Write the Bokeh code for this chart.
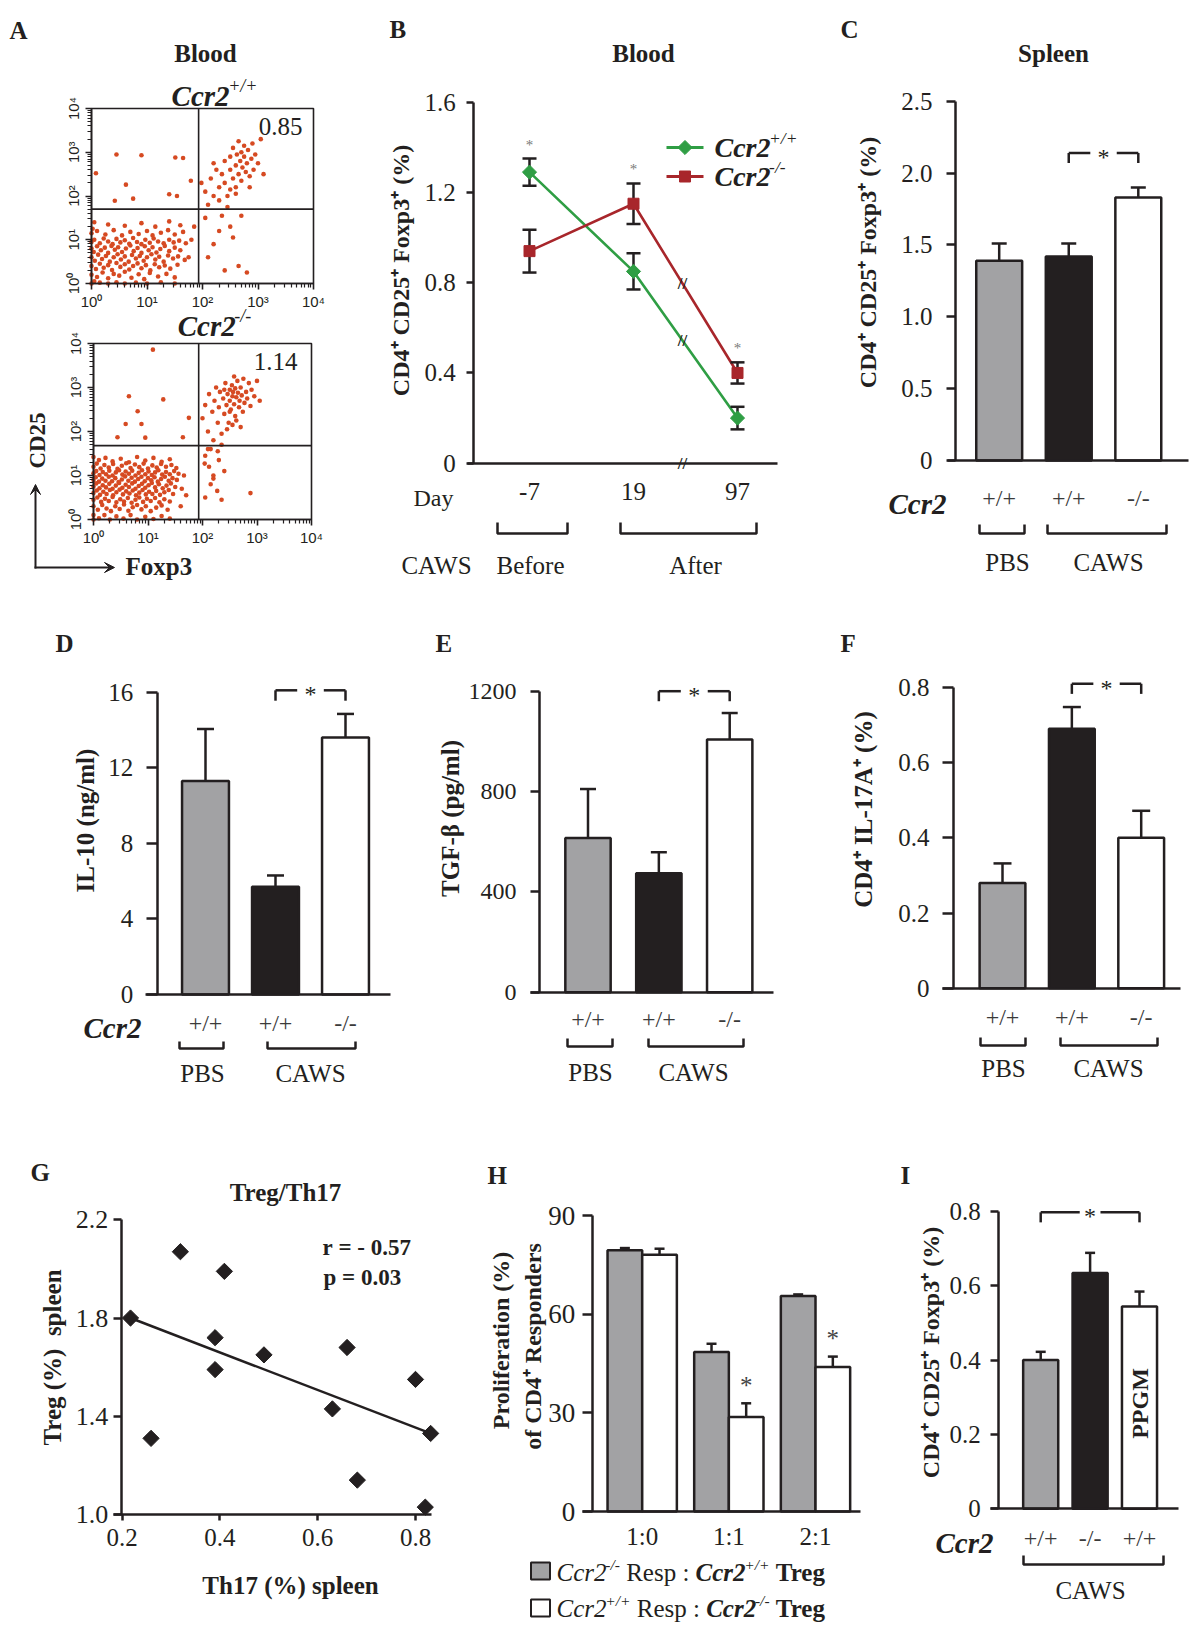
import math
from bokeh.plotting import figure
from bokeh.models import Range1d, LinearAxis, FixedTicker, Arrow, VeeHead
from bokeh.core.properties import value
from bokeh.embed import file_html
from bokeh.resources import INLINE

# ======================= DATA =======================
# A: flow cytometry, blood (log10 fluorescence: Foxp3, CD25)
flow_ticks = [0, 1, 2, 3, 4]
flow_tick_labels = ["10⁰", "10¹", "10²", "10³", "10⁴"]
wt_gate = [1.93, 1.70]
ko_gate = [1.93, 1.68]
wt_treg_pct = "0.85"
ko_treg_pct = "1.14"
wt_events = [
    (0.05,1.4),(0.3,1.35),(0.6,1.32),(0.9,1.38),(1.15,1.3),(1.4,1.42),(1.6,1.33),(0.02,1.25),
    (0.0,1.15),(0.1,1.2),(0.25,1.12),(0.4,1.22),(0.55,1.1),(0.7,1.18),(0.85,1.13),(1.0,1.2),(1.1,1.1),
    (1.25,1.16),(1.38,1.22),(1.5,1.12),(1.65,1.18),
    (0.0,0.95),(0.05,1.0),(0.15,0.92),(0.22,1.03),(0.3,0.96),(0.38,0.9),(0.45,1.02),(0.52,0.94),(0.6,0.99),
    (0.68,0.91),(0.75,1.04),(0.82,0.95),(0.9,0.9),(0.97,1.0),(1.05,0.93),(1.12,1.03),(1.2,0.96),(1.3,0.92),
    (1.4,1.0),(1.48,0.94),(1.58,0.98),(1.7,0.92),
    (0.0,0.8),(0.04,0.72),(0.1,0.85),(0.17,0.76),(0.24,0.82),(0.3,0.7),(0.36,0.86),(0.42,0.77),(0.48,0.83),
    (0.55,0.72),(0.62,0.8),(0.7,0.87),(0.76,0.74),(0.83,0.81),(0.9,0.7),(0.96,0.85),(1.03,0.76),(1.1,0.83),
    (1.17,0.71),(1.24,0.79),(1.32,0.86),(1.4,0.74),(1.5,0.82),(1.6,0.76),
    (0.0,0.6),(0.06,0.52),(0.12,0.66),(0.19,0.56),(0.26,0.63),(0.33,0.5),(0.4,0.6),(0.47,0.67),(0.53,0.55),
    (0.6,0.62),(0.67,0.5),(0.73,0.65),(0.8,0.57),(0.87,0.63),(0.94,0.52),(1.0,0.6),(1.08,0.67),(1.15,0.55),
    (1.22,0.61),(1.3,0.5),(1.38,0.64),(1.47,0.57),(1.56,0.62),(1.68,0.54),
    (0.0,0.4),(0.08,0.33),(0.15,0.45),(0.22,0.36),(0.3,0.42),(0.37,0.31),(0.45,0.47),(0.52,0.38),(0.6,0.44),
    (0.68,0.32),(0.75,0.4),(0.83,0.46),(0.9,0.35),(0.98,0.42),(1.06,0.3),(1.14,0.44),(1.22,0.37),(1.32,0.41),
    (1.42,0.34),(1.55,0.43),
    (0.0,0.2),(0.1,0.15),(0.2,0.25),(0.3,0.12),(0.4,0.22),(0.5,0.18),(0.6,0.27),(0.72,0.13),(0.85,0.21),
    (0.95,0.1),(1.05,0.24),(1.2,0.16),(1.35,0.22),(1.5,0.14),
    (0.0,0.0),(0.15,0.02),(0.3,0.0),(0.45,0.03),(0.6,0.0),(0.8,0.02),(1.0,0.0),(1.25,0.03),(1.5,0.0),(0.05,0.05),
    (1.8,1.0),(1.75,0.6),(1.85,1.3),
    (0.45,2.95),(0.9,2.93),(1.51,2.88),(1.65,2.87),(0.08,2.52),(0.62,2.26),(0.75,1.94),(0.42,1.89),
    (1.40,2.04),(1.54,2.00),(1.79,2.35),
    (2.05,2.1),(2.1,1.8),(2.15,2.4),(2.2,2.0),(2.25,2.6),(2.3,2.2),(2.3,1.9),(2.35,2.5),(2.4,2.8),(2.4,2.3),
    (2.45,2.0),(2.5,2.6),(2.5,2.9),(2.55,2.4),(2.55,3.1),(2.6,2.7),(2.6,2.2),(2.62,2.95),(2.65,2.5),(2.68,2.8),
    (2.7,3.0),(2.7,2.35),(2.72,2.65),(2.75,2.9),(2.75,3.15),(2.78,2.55),(2.8,2.75),(2.82,3.05),(2.85,2.45),
    (2.88,2.85),(2.9,3.2),(2.92,2.6),(2.95,2.95),(3.0,2.75),(3.05,3.3),(2.6,2.05),(2.45,1.75),(2.85,2.2),
    (3.1,2.5),(2.2,2.75),(1.98,2.3),(2.65,3.25),(2.5,2.15),
    (2.05,1.5),(2.2,0.9),(2.3,1.2),(2.5,1.3),(2.55,1.05),(2.65,0.4),(2.4,0.3),(2.8,0.25),(2.35,1.55),
    (2.7,1.55),(2.1,0.6),
]
ko_events = [
    (0.0,1.42),(0.1,1.35),(0.22,1.4),(0.35,1.32),(0.5,1.38),(0.65,1.3),(0.8,1.42),(0.95,1.34),(1.1,1.4),
    (1.25,1.31),(1.4,1.37),
    (0.0,1.2),(0.06,1.27),(0.13,1.16),(0.2,1.24),(0.28,1.18),(0.36,1.26),(0.44,1.15),(0.52,1.22),(0.6,1.28),
    (0.68,1.17),(0.76,1.25),(0.84,1.19),(0.92,1.27),(1.0,1.16),(1.08,1.23),(1.16,1.18),(1.24,1.26),(1.33,1.2),
    (1.43,1.24),(1.52,1.17),
    (0.0,1.05),(0.05,1.1),(0.11,1.01),(0.17,1.08),(0.23,1.03),(0.29,1.11),(0.35,1.0),(0.41,1.07),(0.47,1.12),
    (0.53,1.02),(0.59,1.09),(0.65,1.04),(0.71,1.11),(0.77,1.0),(0.83,1.06),(0.89,1.12),(0.95,1.03),(1.01,1.09),
    (1.07,1.01),(1.13,1.07),(1.19,1.12),(1.26,1.02),(1.33,1.08),(1.4,1.03),(1.48,1.1),(1.56,1.04),
    (0.0,0.9),(0.04,0.96),(0.1,0.86),(0.16,0.93),(0.22,0.88),(0.28,0.97),(0.34,0.87),(0.4,0.94),(0.46,0.85),
    (0.52,0.91),(0.58,0.98),(0.64,0.88),(0.7,0.95),(0.76,0.86),(0.82,0.92),(0.88,0.97),(0.94,0.87),(1.0,0.94),
    (1.06,0.89),(1.12,0.96),(1.18,0.86),(1.24,0.92),(1.31,0.97),(1.38,0.88),(1.45,0.94),(1.53,0.9),
    (0.0,0.75),(0.05,0.82),(0.11,0.71),(0.17,0.78),(0.23,0.73),(0.29,0.81),(0.35,0.7),(0.41,0.77),(0.47,0.83),
    (0.53,0.72),(0.59,0.79),(0.65,0.74),(0.71,0.82),(0.77,0.7),(0.83,0.76),(0.89,0.81),(0.95,0.72),(1.01,0.78),
    (1.07,0.83),(1.13,0.73),(1.2,0.8),(1.27,0.71),(1.34,0.77),(1.42,0.82),(1.5,0.74),
    (0.0,0.6),(0.06,0.66),(0.12,0.56),(0.18,0.63),(0.24,0.58),(0.3,0.67),(0.36,0.55),(0.42,0.62),(0.48,0.68),
    (0.54,0.57),(0.6,0.64),(0.66,0.59),(0.72,0.66),(0.78,0.55),(0.84,0.61),(0.9,0.67),(0.96,0.57),(1.02,0.63),
    (1.08,0.58),(1.15,0.65),(1.22,0.56),(1.3,0.62),(1.38,0.67),(1.46,0.58),
    (0.0,0.45),(0.07,0.5),(0.14,0.4),(0.21,0.47),(0.28,0.42),(0.35,0.51),(0.42,0.39),(0.49,0.46),(0.56,0.41),
    (0.63,0.49),(0.7,0.38),(0.77,0.45),(0.84,0.5),(0.91,0.4),(0.98,0.47),(1.05,0.42),(1.13,0.49),(1.21,0.39),
    (1.3,0.46),(1.4,0.41),
    (0.0,0.3),(0.08,0.22),(0.16,0.33),(0.24,0.25),(0.32,0.19),(0.4,0.3),(0.48,0.24),(0.56,0.34),(0.64,0.2),
    (0.72,0.28),(0.8,0.33),(0.88,0.23),(0.96,0.3),(1.05,0.19),(1.15,0.27),(1.25,0.32),(1.36,0.22),
    (0.0,0.0),(0.0,0.1),(0.1,0.03),(0.2,0.1),(0.3,0.0),(0.42,0.07),(0.55,0.02),(0.68,0.1),(0.8,0.0),(0.95,0.06),
    (1.1,0.01),(1.25,0.08),(1.4,0.02),
    (1.62,0.7),(1.66,1.0),(1.6,0.3),(1.7,0.55),
    (1.09,3.86),(0.65,2.8),(1.28,2.73),(0.81,2.46),(0.59,2.17),(0.88,2.17),(0.44,1.87),(0.95,1.86),
    (1.75,2.31),(1.64,1.87),
    (2.0,2.3),(2.05,2.6),(2.1,2.0),(2.12,2.85),(2.18,2.45),(2.2,1.8),(2.22,2.7),(2.25,3.0),(2.28,2.2),(2.3,2.55),
    (2.32,2.9),(2.35,1.95),(2.38,2.75),(2.4,2.4),(2.42,3.1),(2.44,2.6),(2.46,2.85),(2.48,2.2),(2.5,2.95),
    (2.5,2.7),(2.52,2.5),(2.54,3.05),(2.55,2.8),(2.56,2.9),(2.58,2.62),(2.6,2.98),(2.6,2.35),(2.62,2.78),
    (2.64,3.15),(2.65,2.88),(2.67,2.55),(2.68,2.7),(2.7,3.0),(2.72,2.82),(2.74,2.45),(2.75,3.2),(2.77,2.65),
    (2.8,2.9),(2.82,2.75),(2.85,3.1),(2.88,2.58),(2.9,2.95),(2.95,2.8),(3.0,3.15),(3.05,2.7),(2.45,2.05),
    (2.35,1.7),(2.55,2.15),(2.15,1.6),(2.28,1.55),(2.62,2.25),(2.7,2.1),(2.4,2.95),(2.58,3.25),(2.5,2.45),
    (2.05,1.45),(2.12,1.2),(2.2,1.0),(2.3,1.35),(2.15,0.8),(2.27,0.65),(2.05,0.5),(2.4,1.1),(2.1,1.6),
    (2.88,0.6),(2.35,0.45),(2.04,1.27),(2.2,0.93),
]

# B: blood Treg time course
b_days = ["-7", "19", "97"]
b_pos = [1, 2, 3]
b_wt_mean = [1.29, 0.85, 0.20]
b_wt_err = [0.06, 0.08, 0.05]
b_ko_mean = [0.94, 1.15, 0.40]
b_ko_err = [0.095, 0.09, 0.047]
b_ticks = [0, 0.4, 0.8, 1.2, 1.6]
b_tick_labels = ["0", "0.4", "0.8", "1.2", "1.6"]

# C-F: PBS +/+, CAWS +/+, CAWS -/-
grp_pos = [1, 2, 3]
grp_genotype = ["+/+", "+/+", "-/-"]
c_mean = [1.39, 1.42, 1.83]
c_err = [0.12, 0.09, 0.07]
c_ticks = [0, 0.5, 1.0, 1.5, 2.0, 2.5]
c_tick_labels = ["0", "0.5", "1.0", "1.5", "2.0", "2.5"]
d_mean = [11.3, 5.7, 13.6]
d_err = [2.75, 0.6, 1.25]
d_ticks = [0, 4, 8, 12, 16]
d_tick_labels = ["0", "4", "8", "12", "16"]
e_mean = [615, 474, 1007]
e_err = [195, 84, 106]
e_ticks = [0, 400, 800, 1200]
e_tick_labels = ["0", "400", "800", "1200"]
f_mean = [0.28, 0.69, 0.40]
f_err = [0.052, 0.058, 0.072]
f_ticks = [0, 0.2, 0.4, 0.6, 0.8]
f_tick_labels = ["0", "0.2", "0.4", "0.6", "0.8"]

# G: Treg vs Th17 (spleen)
g_th17 = [0.217, 0.259, 0.319, 0.409, 0.390, 0.390, 0.490, 0.630, 0.660, 0.681, 0.800, 0.831, 0.820]
g_treg = [1.80, 1.31, 2.07, 1.99, 1.72, 1.59, 1.65, 1.43, 1.68, 1.14, 1.55, 1.33, 1.03]
g_fit_x = [0.217, 0.831]
g_fit_y = [1.80, 1.33]
g_xticks = [0.2, 0.4, 0.6, 0.8]
g_xtick_labels = ["0.2", "0.4", "0.6", "0.8"]
g_yticks = [1.0, 1.4, 1.8, 2.2]
g_ytick_labels = ["1.0", "1.4", "1.8", "2.2"]

# H: suppression assay
h_ratios = ["1:0", "1:1", "2:1"]
h_pos = [1, 2, 3]
h_ko_resp = [79.4, 48.5, 65.5]
h_ko_resp_err = [0.7, 2.5, 0.5]
h_wt_resp = [78.1, 28.7, 43.9]
h_wt_resp_err = [1.8, 4.2, 3.2]
h_sig = [False, True, True]
h_ticks = [0, 30, 60, 90]
h_tick_labels = ["0", "30", "60", "90"]

# I: CAWS, +/+, -/-, +/+ PPGM
i_genotype = ["+/+", "-/-", "+/+"]
i_mean = [0.40, 0.634, 0.544]
i_err = [0.022, 0.054, 0.040]

# ======================= STYLE / LAYOUT =======================
W, H = 1192, 1630
X0, Y0 = 0, 0
X1, Y1 = X0 + W, Y0 + H
INK = "#231f20"
GRAY_BAR = "#a2a2a4"
BAR_COLORS = [GRAY_BAR, INK, "#ffffff"]
GREEN = "#2f9e44"
RED = "#a8262b"
DOT = "#d64a22"
SERIF = "Liberation Serif"
NB = "\u00a0"

p = figure(width=W, height=H, output_backend="svg", toolbar_location=None,
           x_axis_type=None, y_axis_type=None, min_border=0, title=None,
           x_range=Range1d(X0, X1), y_range=Range1d(Y1, Y0))
p.outline_line_color = None
p.background_fill_color = "white"
p.border_fill_color = "white"

REG = {' ': .25, '+': .564, '/': .278, '-': .333, ':': .278, 'R': .667, 'e': .444, 's': .389,
       'p': .5, 'C': .667, 'c': .444, 'r': .333, '2': .5}
ITA = {' ': .25, '+': .675, '/': .278, '-': .333, 'C': .667, 'c': .444, 'r': .389, '2': .5}
BLD = {' ': .25, 'T': .667, 'r': .444, 'e': .444, 'g': .5}
BIT = {'C': .667, 'c': .444, 'r': .389, '2': .5}
TABLES = {"normal": REG, "italic": ITA, "bold": BLD, "bold italic": BIT}


def tw(s, style, size):
    t = TABLES[style]
    return sum(t.get(ch, 0.5) for ch in s) * size


def txt(x, y, s, size, style="normal", align="center", baseline="middle", angle=0.0,
        color=INK, r="default", font=SERIF, xo=0, yo=0):
    p.text(x=[x], y=[y], text=[s.replace(" ", NB)], text_font=value(font),
           text_font_size=f"{size:.1f}px", text_font_style=style, text_align=align,
           text_baseline=baseline, angle=angle, text_color=color, x_range_name=r,
           y_range_name=r, x_offset=xo, y_offset=yo)


def rich(x, y, parts, size, align="left"):
    # superscripts tuck in slightly after the (slanted) italic glyph before them
    ws = [tw(t, st, size * rel) - (0.05 * size if up else 0) for t, st, rel, up in parts]
    if align == "center":
        x -= sum(ws) / 2
    for (t, st, rel, up), w in zip(parts, ws):
        txt(x - (0.05 * size if up else 0), y - up * size, t, size * rel, style=st, align="left")
        x += w


def ccr2(sup):
    return [("Ccr2", "bold italic", 1, 0), (sup, "italic", 0.62, 0.34)]


def make_panel(name, xd, xp, yd, yp):
    (xd0, xd1), (xp0, xp1) = xd, xp
    sx = (xd1 - xd0) / (xp1 - xp0)
    (yd0, yd1), (yp0, yp1) = yd, yp
    sy = (yd1 - yd0) / (yp1 - yp0)
    p.extra_x_ranges = {**p.extra_x_ranges,
                        name: Range1d(start=xd0 + (X0 - xp0) * sx, end=xd0 + (X1 - xp0) * sx)}
    p.extra_y_ranges = {**p.extra_y_ranges,
                        name: Range1d(start=yd0 + (Y1 - yp0) * sy, end=yd0 + (Y0 - yp0) * sy)}
    return (lambda px: xd0 + (px - xp0) * sx), (lambda py: yd0 + (py - yp0) * sy)


def axis(name, side, loc, bounds, ticks, labels, size=25, font=SERIF, tick_out=9, standoff=12,
         lw=2.5, minor=None, orient=None, color=INK):
    ax = LinearAxis(x_range_name=name, y_range_name=name, fixed_location=loc, bounds=bounds,
                    ticker=FixedTicker(ticks=list(ticks), minor_ticks=list(minor or [])))
    ax.major_label_overrides = {t: l for t, l in zip(ticks, labels)}
    ax.axis_line_width = lw
    ax.axis_line_color = INK
    ax.major_tick_line_width = lw
    ax.major_tick_line_color = INK if tick_out else None
    ax.major_tick_out = tick_out
    ax.major_tick_in = 0
    ax.minor_tick_line_color = INK if minor else None
    ax.minor_tick_line_width = 1.2
    ax.minor_tick_out = 4
    ax.minor_tick_in = 0
    ax.major_label_text_font = font
    ax.major_label_text_font_size = f"{size}px"
    ax.major_label_text_color = color
    ax.major_label_standoff = standoff
    if orient:
        ax.major_label_orientation = orient
    p.add_layout(ax, side)


def bars(name, pos, means, errs, colors, width, cap):
    p.vbar(x=pos, top=means, bottom=0, width=width, fill_color=colors, line_color=INK,
           line_width=2.5, x_range_name=name, y_range_name=name)
    p.segment(x0=pos, y0=means, x1=pos, y1=[m + e for m, e in zip(means, errs)],
              line_color=INK, line_width=2.5, x_range_name=name, y_range_name=name)
    p.scatter(x=pos, y=[m + e for m, e in zip(means, errs)], marker="dash", size=cap,
              line_color=INK, line_width=2.5, x_range_name=name, y_range_name=name)


def sig(name, xa, xb, level, leg, gap, size=24):
    xm = (xa + xb) / 2
    p.segment(x0=[xa, xm + gap, xa, xb], y0=[level] * 4, x1=[xm - gap, xb, xa, xb],
              y1=[level, level, leg, leg], line_color=INK, line_width=2.5,
              x_range_name=name, y_range_name=name)
    txt(xm, level, "*", size, r=name, yo=4)


def bracket(xa, xb, ytop, ybot):
    p.line(x=[xa, xa, xb, xb], y=[ytop, ybot, ybot, ytop], line_color=INK, line_width=2.5)


# ======================= PANEL A =======================
txt(9, 30, "A", 25, "bold", align="left")
txt(205, 53, "Blood", 25, "bold")
minor_log = [d + math.log10(k) for d in range(4) for k in range(2, 10)]
for name, xp, yp, events, gate, pct, pct_xy, sup, title_y in [
        ("a1", (91, 313), (283, 108), wt_events, wt_gate, wt_treg_pct, (280, 126), "+/+", 95),
        ("a2", (93, 311), (519, 343), ko_events, ko_gate, ko_treg_pct, (275, 361), "-/-", 325)]:
    make_panel(name, (0, 4), xp, (0, 4), yp)
    p.scatter(x=[e[0] for e in events], y=[e[1] for e in events], marker="circle", size=4.6,
              fill_color=DOT, line_color=None, x_range_name=name, y_range_name=name)
    p.quad(left=[0], right=[4], bottom=[0], top=[4], fill_color=None, line_color=INK,
           line_width=1.6, x_range_name=name, y_range_name=name)
    p.segment(x0=[gate[0], 0], y0=[0, gate[1]], x1=[gate[0], 4], y1=[4, gate[1]],
              line_color=INK, line_width=1.6, x_range_name=name, y_range_name=name)
    axis(name, "below", 0, (0, 4), flow_ticks, flow_tick_labels, size=15, font="Liberation Sans",
         tick_out=6, standoff=3, lw=1.6, minor=minor_log)
    axis(name, "left", 0, (0, 4), flow_ticks, flow_tick_labels, size=15, font="Liberation Sans",
         tick_out=6, standoff=4, lw=1.6, minor=minor_log, orient="vertical")
    txt(pct_xy[0], pct_xy[1], pct, 25)
    rich(214, title_y, ccr2(sup), 29, align="center")
txt(37, 440, "CD25", 23, "bold", angle=math.pi / 2)
txt(125, 566, "Foxp3", 25, "bold", align="left")
p.add_layout(Arrow(end=VeeHead(size=10, fill_color=INK, line_color=INK), x_start=35, y_start=568,
                   x_end=35, y_end=484, line_width=2, line_color=INK))
p.add_layout(Arrow(end=VeeHead(size=10, fill_color=INK, line_color=INK), x_start=34, y_start=567,
                   x_end=114, y_end=567, line_width=2, line_color=INK))

# ======================= PANEL B =======================
txt(389, 29, "B", 25, "bold", align="left")
txt(643, 53, "Blood", 25, "bold")
fx, fy = make_panel("b", (1, 3), (529, 737), (0, 1.6), (462.7, 101.7))
axis("b", "left", fx(473.3), (0, 1.6), b_ticks, b_tick_labels, tick_out=7, standoff=11)
axis("b", "below", 0, (fx(467), fx(777)), b_pos, b_days, tick_out=0, standoff=20)
b_break = 2.47
for mean, err, color, msize in [(b_wt_mean, b_wt_err, GREEN, 10), (b_ko_mean, b_ko_err, RED, 11)]:
    p.line(x=b_pos, y=mean, line_color=color, line_width=2.6, x_range_name="b", y_range_name="b")
    lo = [m - e for m, e in zip(mean, err)]
    hi = [m + e for m, e in zip(mean, err)]
    p.segment(x0=b_pos, y0=lo, x1=b_pos, y1=hi, line_color=INK, line_width=2.5,
              x_range_name="b", y_range_name="b")
    p.scatter(x=b_pos + b_pos, y=lo + hi, marker="dash", size=14, line_color=INK, line_width=2.5,
              x_range_name="b", y_range_name="b")
    p.scatter(x=b_pos, y=mean, marker="square", size=msize, angle=(math.pi / 4 if color == GREEN else 0),
              fill_color=color, line_color=color, x_range_name="b", y_range_name="b")
    yb = mean[1] + (mean[2] - mean[1]) * (b_break - 2)
    txt(b_break, yb, "//", 17, "bold", r="b")
p.rect(x=[b_break], y=[0], width=12, height=10, width_units="screen", height_units="screen",
       fill_color="white", line_color=None, x_range_name="b", y_range_name="b")
txt(b_break, 0, "//", 17, "bold", r="b")
for i in range(3):
    top = max(b_wt_mean[i] + b_wt_err[i], b_ko_mean[i] + b_ko_err[i])
    txt(b_pos[i], top, "*", 15, color="#7a7a7a", r="b", yo=-14)
txt(400, 270, "CD4⁺ CD25⁺ Foxp3⁺ (%)", 24, "bold", angle=math.pi / 2)
txt(433, 497, "Day", 24)
bracket(497, 567, 522, 533)
bracket(620, 756, 522, 533)
txt(436, 565, "CAWS", 25)
txt(530, 565, "Before", 25)
txt(695, 565, "After", 25)
p.segment(x0=[666, 666], y0=[147, 176], x1=[703, 703], y1=[147, 176],
          line_color=[GREEN, RED], line_width=3)
p.scatter(x=[684.5], y=[147], marker="square", angle=math.pi / 4, size=10, fill_color=GREEN, line_color=GREEN)
p.scatter(x=[684.5], y=[176], marker="square", size=11, fill_color=RED, line_color=RED)
rich(714, 147, ccr2("+/+"), 28)
rich(714, 176, ccr2("-/-"), 28)

# ======================= PANEL C =======================
txt(840, 29, "C", 25, "bold", align="left")
txt(1053, 53, "Spleen", 25, "bold")
fx, fy = make_panel("c", (1, 3), (998.7, 1137.8), (0, 2.5), (460, 100.7))
axis("c", "left", fx(955), (0, 2.5), c_ticks, c_tick_labels, tick_out=9, standoff=14)
axis("c", "below", 0, (fx(947), fx(1188)), grp_pos, grp_genotype, size=24, tick_out=0,
     standoff=24, color="#3a3a3a")
bars("c", grp_pos, c_mean, c_err, BAR_COLORS, 0.66, 15)
sig("c", 2, 3, 2.14, 2.07, 0.19)
txt(867, 262, "CD4⁺ CD25⁺ Foxp3⁺ (%)", 24, "bold", angle=math.pi / 2)
txt(888, 503, "Ccr2", 29, "bold italic", align="left")
bracket(979, 1024, 524, 533)
bracket(1047, 1166, 524, 533)
txt(1007, 562, "PBS", 25)
txt(1108, 562, "CAWS", 25)

# ======================= PANEL D =======================
txt(55, 643, "D", 25, "bold", align="left")
fx, fy = make_panel("d", (1, 3), (205, 345), (0, 16), (994, 691.7))
axis("d", "left", fx(156.7), (0, 16), d_ticks, d_tick_labels, tick_out=11, standoff=13)
axis("d", "below", 0, (fx(145), fx(390)), grp_pos, grp_genotype, size=24, tick_out=0,
     standoff=15, color="#3a3a3a")
bars("d", grp_pos, d_mean, d_err, BAR_COLORS, 0.67, 17)
sig("d", 2, 3, 16.1, 15.55, 0.19)
txt(85, 820, "IL-10 (ng/ml)", 25, "bold", angle=math.pi / 2)
txt(83, 1027, "Ccr2", 29, "bold italic", align="left")
bracket(179, 223, 1041, 1048)
bracket(267, 355, 1041, 1048)
txt(202, 1073, "PBS", 25)
txt(310, 1073, "CAWS", 25)

# ======================= PANEL E =======================
txt(435, 643, "E", 25, "bold", align="left")
fx, fy = make_panel("e", (1, 3), (587.5, 729.2), (0, 1200), (991.7, 690.7))
axis("e", "left", fx(539), (0, 1200), e_ticks, e_tick_labels, tick_out=9, standoff=14, size=24)
axis("e", "below", 0, (fx(530), fx(773)), grp_pos, grp_genotype, size=24, tick_out=0,
     standoff=14, color="#3a3a3a")
bars("e", grp_pos, e_mean, e_err, BAR_COLORS, 0.64, 16)
sig("e", 2, 3, 1200, 1160, 0.19)
txt(450, 818, "TGF-β (pg/ml)", 25, "bold", angle=math.pi / 2)
bracket(567, 612, 1038, 1046)
bracket(648, 743, 1038, 1046)
txt(590, 1072, "PBS", 25)
txt(693, 1072, "CAWS", 25)

# ======================= PANEL F =======================
txt(840, 643, "F", 25, "bold", align="left")
fx, fy = make_panel("f", (1, 3), (1002, 1140.7), (0, 0.8), (987.7, 687))
axis("f", "left", fx(953), (0, 0.8), f_ticks, f_tick_labels, tick_out=11, standoff=13)
axis("f", "below", 0, (fx(942), fx(1180)), grp_pos, grp_genotype, size=24, tick_out=0,
     standoff=16, color="#3a3a3a")
bars("f", grp_pos, f_mean, f_err, BAR_COLORS, 0.66, 18)
sig("f", 2, 3, 0.81, 0.783, 0.19)
txt(863, 809, "CD4⁺ IL-17A⁺ (%)", 25, "bold", angle=math.pi / 2)
bracket(980, 1025, 1037, 1045)
bracket(1060, 1157, 1037, 1045)
txt(1003, 1068, "PBS", 25)
txt(1108, 1068, "CAWS", 25)

# ======================= PANEL G =======================
txt(30, 1172, "G", 25, "bold", align="left")
txt(285, 1192, "Treg/Th17", 25, "bold")
fx, fy = make_panel("g", (0.2, 0.8), (121.7, 415), (1.0, 2.2), (1514, 1219.3))
axis("g", "left", fx(120.7), (1.0, 2.2), g_yticks, g_ytick_labels, tick_out=8, standoff=5, size=26)
axis("g", "below", 1.0, (fx(113), fx(431)), g_xticks, g_xtick_labels, tick_out=6, standoff=8, size=25)
p.line(x=g_fit_x, y=g_fit_y, line_color=INK, line_width=2.5, x_range_name="g", y_range_name="g")
p.scatter(x=g_th17, y=g_treg, marker="square", angle=math.pi / 4, size=11.5, fill_color=INK,
          line_color=INK, x_range_name="g", y_range_name="g")
txt(322, 1247, "r = - 0.57", 23, "bold", align="left")
txt(323, 1277, "p = 0.03", 23, "bold", align="left")
txt(52, 1357, "Treg (%)  spleen", 25, "bold", angle=math.pi / 2)
txt(290, 1585, "Th17 (%) spleen", 25, "bold")

# ======================= PANEL H =======================
txt(487, 1175, "H", 25, "bold", align="left")
fx, fy = make_panel("h", (1, 3), (641.7, 815), (0, 90), (1511, 1215))
axis("h", "left", fx(591.7), (0, 90), h_ticks, h_tick_labels, tick_out=10, standoff=7, size=27)
axis("h", "below", 0, (fx(581.7), fx(860)), h_pos, h_ratios, size=25, tick_out=0, standoff=11)
hx_ko = [x - 0.2 for x in h_pos]
hx_wt = [x + 0.2 for x in h_pos]
bars("h", hx_ko, h_ko_resp, h_ko_resp_err, [GRAY_BAR] * 3, 0.4, 10)
bars("h", hx_wt, h_wt_resp, h_wt_resp_err, ["#ffffff"] * 3, 0.4, 10)
for x, m, e, s in zip(hx_wt, h_wt_resp, h_wt_resp_err, h_sig):
    if s:
        txt(x, m + e, "*", 25, color="#444444", r="h", yo=-18)
txt(500, 1340, "Proliferation (%)", 24, "bold", angle=math.pi / 2)
txt(532, 1346, "of CD4⁺ Responders", 24, "bold", angle=math.pi / 2)
p.rect(x=[540, 540], y=[1570.5, 1607.5], width=19, height=17, fill_color=[GRAY_BAR, "#ffffff"],
       line_color=INK, line_width=2)
rich(556, 1572, [("Ccr2", "italic", 1, 0), ("-/-", "italic", 0.62, 0.34), (" Resp : ", "normal", 1, 0),
                 ("Ccr2", "bold italic", 1, 0), ("+/+", "italic", 0.62, 0.34), (" Treg", "bold", 1, 0)], 25)
rich(556, 1608, [("Ccr2", "italic", 1, 0), ("+/+", "italic", 0.62, 0.34), (" Resp : ", "normal", 1, 0),
                 ("Ccr2", "bold italic", 1, 0), ("-/-", "italic", 0.62, 0.34), (" Treg", "bold", 1, 0)], 25)

# ======================= PANEL I =======================
txt(900, 1175, "I", 25, "bold", align="left")
fx, fy = make_panel("i", (1, 3), (1040.2, 1139), (0, 0.8), (1508.3, 1210.7))
axis("i", "left", fx(998.3), (0, 0.8), f_ticks, f_tick_labels, tick_out=8, standoff=10)
axis("i", "below", 0, (fx(990), fx(1178)), grp_pos, i_genotype, size=24, tick_out=0,
     standoff=16, color="#3a3a3a")
bars("i", grp_pos, i_mean, i_err, BAR_COLORS, 0.71, 10)
sig("i", 1, 3, 0.797, 0.770, 0.21)
txt(1139, 1403, "PPGM", 24, "bold", angle=math.pi / 2)
txt(930, 1352, "CD4⁺ CD25⁺ Foxp3⁺ (%)", 24, "bold", angle=math.pi / 2)
txt(935, 1542, "Ccr2", 29, "bold italic", align="left")
bracket(1023, 1163, 1555, 1564)
txt(1090, 1590, "CAWS", 25)

open("out.html", "w").write(file_html(p, INLINE))
